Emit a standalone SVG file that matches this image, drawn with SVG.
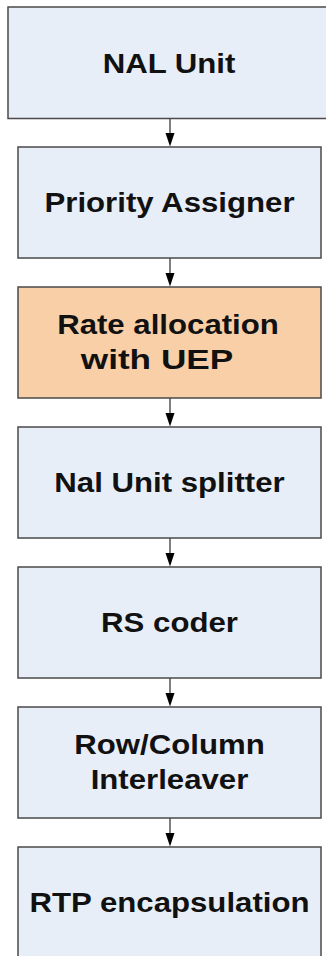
<svg xmlns="http://www.w3.org/2000/svg" width="326" height="956" viewBox="0 0 326 956">
<style>
.box{fill:#e8eef8;stroke:#4a4a4a;stroke-width:1.5}
.hot{fill:#f9cfa7}
.t{font-family:"Liberation Sans",Arial,sans-serif;font-weight:bold;font-size:27px;fill:#111;text-anchor:middle}
.ln{stroke:#555;stroke-width:1.5;fill:none}
.ah{fill:#000}
</style>
<g id="connectors">
<line class="ln" x1="170" y1="118.5" x2="170" y2="134"/>
<polygon class="ah" points="165.5,133 174.5,133 170,146.5"/>
<line class="ln" x1="170" y1="258" x2="170" y2="274"/>
<polygon class="ah" points="165.5,273 174.5,273 170,286.5"/>
<line class="ln" x1="170" y1="398" x2="170" y2="414"/>
<polygon class="ah" points="165.5,413 174.5,413 170,426.5"/>
<line class="ln" x1="170" y1="538" x2="170" y2="554"/>
<polygon class="ah" points="165.5,553 174.5,553 170,566.5"/>
<line class="ln" x1="170" y1="678" x2="170" y2="694"/>
<polygon class="ah" points="165.5,693 174.5,693 170,706.5"/>
<line class="ln" x1="170" y1="818" x2="170" y2="834"/>
<polygon class="ah" points="165.5,833 174.5,833 170,846.5"/>
</g>
<g id="n1">
<rect class="box" x="8" y="7" width="330" height="111.5"/>
<text class="t" transform="translate(169,72.5) scale(1.155,1)">NAL Unit</text>
</g>
<g id="n2">
<rect class="box" x="18" y="147" width="303" height="111"/>
<text class="t" transform="translate(169.5,212) scale(1.155,1)">Priority Assigner</text>
</g>
<g id="n3">
<rect class="box hot" x="18" y="287" width="303" height="111"/>
<text class="t" transform="translate(168,334) scale(1.155,1)">Rate allocation</text>
<text class="t" transform="translate(157,369) scale(1.155,1)" textLength="132" lengthAdjust="spacingAndGlyphs">with UEP</text>
</g>
<g id="n4">
<rect class="box" x="18" y="427" width="303" height="111"/>
<text class="t" transform="translate(169.5,492) scale(1.155,1)">Nal Unit splitter</text>
</g>
<g id="n5">
<rect class="box" x="18" y="567" width="303" height="111"/>
<text class="t" transform="translate(169.5,632) scale(1.155,1)">RS coder</text>
</g>
<g id="n6">
<rect class="box" x="18" y="707" width="303" height="111"/>
<text class="t" transform="translate(169.5,754) scale(1.155,1)">Row/Column</text>
<text class="t" transform="translate(169.5,789) scale(1.155,1)">Interleaver</text>
</g>
<g id="n7">
<rect class="box" x="18" y="847" width="303" height="120"/>
<text class="t" transform="translate(169.5,912) scale(1.155,1)">RTP encapsulation</text>
</g>
</svg>
